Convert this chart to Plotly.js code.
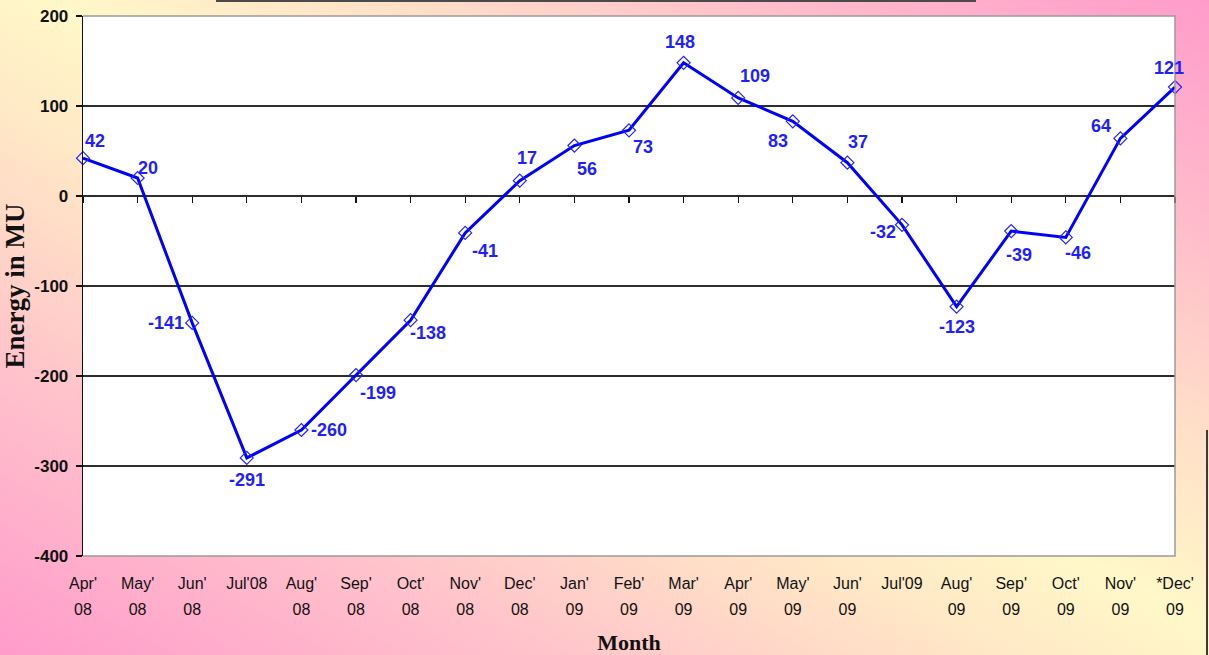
<!DOCTYPE html>
<html>
<head>
<meta charset="utf-8">
<script src="https://cdn.plot.ly/plotly-3.0.1.min.js"></script>
<style>
  html, body { margin: 0; padding: 0; width: 1209px; height: 655px; overflow: hidden; }
  body {
    position: relative;
    background: linear-gradient(to top right, #ff9bcb 0%, #ffc2cb 22%, #ffe6c6 40%, #fff8c8 52%, #ffe0c8 66%, #ffbccb 82%, #ff9bcb 100%);
  }
  #chart { position: absolute; left: 0; top: 0; width: 1209px; height: 655px; }
  #titleLine { position: absolute; left: 216px; top: 0; width: 760px; height: 2px; background: #4a4a4a; }
  #edgeLine { position: absolute; left: 1206px; top: 430px; width: 2px; height: 225px; background: #3a3a3a; }
</style>
</head>
<body>
<div id="chart"></div>
<div id="titleLine"></div>
<div id="edgeLine"></div>
<script>
// ---- data ----
const monthLine1 = ["Apr'", "May'", "Jun'", "Jul'08", "Aug'", "Sep'", "Oct'", "Nov'", "Dec'", "Jan'", "Feb'",
                    "Mar'", "Apr'", "May'", "Jun'", "Jul'09", "Aug'", "Sep'", "Oct'", "Nov'", "*Dec'"];
const monthLine2 = ["08", "08", "08", "", "08", "08", "08", "08", "08", "09", "09",
                    "09", "09", "09", "09", "", "09", "09", "09", "09", "09"];
const energyMU = [42, 20, -141, -291, -260, -199, -138, -41, 17, 56, 73,
                  148, 109, 83, 37, -32, -123, -39, -46, 64, 121];
const yTicks = [-400, -300, -200, -100, 0, 100, 200];
const yTickText = ["-400", "-300", "-200", "-100", "0", "100", "200"];

// ---- label placement (styling) ----
const labelDX = [12, 10, -26, 0, 28, 22, 17, 20, 7, 13, 14, -4, 17, -15, 11, -19, 0, 8, 12, -19, -6];
const labelDY = [-17, -10, 0, 22, 0, 18, 13, 18, -23, 23, 17, -21, -22, 20, -21, 7, 20, 24, 16, -12, -19];

const idx = energyMU.map((_, i) => i);
const xRange = [0, energyMU.length - 1];
const sans = "Liberation Sans, Arial, sans-serif";
const serif = "Liberation Serif, Times New Roman, serif";

const traces = [
  {
    type: "scatter", mode: "lines+markers",
    x: idx, y: energyMU,
    line: { color: "#0000ff", width: 3 },
    marker: { symbol: "diamond-open", size: 10, color: "#2222ff", line: { width: 1.2, color: "#2222ff" } },
    hoverinfo: "y", showlegend: false, cliponaxis: false
  },
  { type: "scatter", mode: "markers", x: [], y: [], xaxis: "x2", showlegend: false, hoverinfo: "skip" },
  { type: "scatter", mode: "markers", x: [], y: [], xaxis: "x3", showlegend: false, hoverinfo: "skip" }
];

const annotations = energyMU.map((v, i) => ({
  x: i, y: v, xref: "x", yref: "y",
  text: String(v), showarrow: false,
  xshift: labelDX[i], yshift: -labelDY[i],
  font: { family: sans, size: 18, color: "#1f1fff", weight: "bold" }
}));

const layout = {
  width: 1209, height: 655,
  margin: { l: 83, r: 34, t: 16, b: 99 },
  paper_bgcolor: "rgba(0,0,0,0)",
  plot_bgcolor: "#ffffff",
  showlegend: false,
  xaxis: {
    range: xRange, tickmode: "array", tickvals: idx, ticktext: monthLine1,
    showgrid: false, zeroline: false, showline: false, ticks: "",
    tickfont: { family: sans, size: 16, color: "#111" },
    ticklabelstandoff: 16, fixedrange: true,
    title: { text: "Month", font: { family: serif, size: 22, color: "#111", weight: "bold" }, standoff: 52 }
  },
  xaxis2: {
    overlaying: "x", anchor: "free", position: (0 - yTicks[0]) / (yTicks[yTicks.length - 1] - yTicks[0]),
    range: xRange, tickmode: "array", tickvals: idx, showticklabels: false,
    ticks: "outside", ticklen: 6, tickwidth: 1.3, tickcolor: "#111",
    showgrid: false, zeroline: false, showline: false, fixedrange: true
  },
  xaxis3: {
    overlaying: "x", anchor: "y", side: "bottom",
    range: xRange, tickmode: "array", tickvals: idx, ticktext: monthLine2,
    showgrid: false, zeroline: false, showline: false, ticks: "",
    tickfont: { family: sans, size: 16, color: "#111" },
    ticklabelstandoff: 42, fixedrange: true
  },
  yaxis: {
    range: [yTicks[0], yTicks[yTicks.length - 1]], tickmode: "array", tickvals: yTicks, ticktext: yTickText,
    showgrid: true, gridcolor: "#2e2e2e", gridwidth: 1.3,
    zeroline: false, showline: true, linecolor: "#111", linewidth: 1.3,
    ticks: "outside", ticklen: 6, tickcolor: "#111", tickwidth: 1.3,
    tickfont: { family: sans, size: 17, color: "#111", weight: "bold" },
    ticklabelstandoff: 4, fixedrange: true,
    title: { text: "Energy in MU", font: { family: serif, size: 27, color: "#111", weight: "bold" }, standoff: 12 }
  },
  shapes: [
    { type: "path", xref: "paper", yref: "paper", path: "M0,1 L1,1 L1,0 L0,0", line: { color: "#9a9a9a", width: 1.5 }, layer: "above" }
  ],
  annotations: annotations
};

Plotly.newPlot("chart", traces, layout, { staticPlot: true, displayModeBar: false });
</script>
</body>
</html>
